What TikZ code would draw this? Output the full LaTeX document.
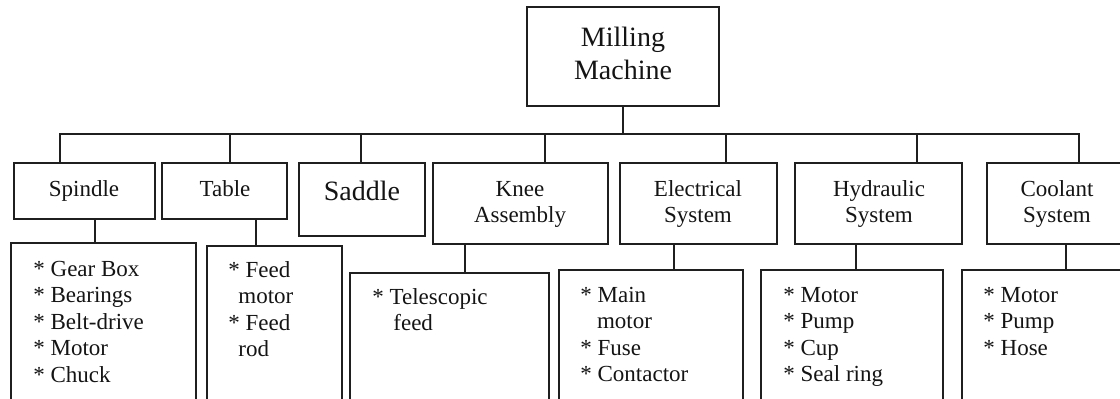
\documentclass[tikz,border=0pt]{standalone}
\usepackage{fontspec}
\setmainfont{Liberation Serif}
\usetikzlibrary{fit}
\begin{document}
\begin{tikzpicture}[x=0.5pt,y=-0.5pt,
  box/.style={draw=black!88, line width=1.1pt, inner sep=0pt, rectangle},
  conn/.style={draw=black!88, line width=1.1pt},
  lbl/.style={inner sep=0pt, anchor=north, align=center, text=black!92, font=\fontsize{11.5}{13}\selectfont},
  big/.style={inner sep=0pt, anchor=north, align=center, text=black!92, font=\fontsize{14}{16.5}\selectfont},
  lst/.style={inner sep=0pt, anchor=north west, align=left, text=black!92, font=\fontsize{11.5}{13.25}\selectfont}]
\useasboundingbox (0,0) rectangle (1120,398);
\clip (0,0) rectangle (1120,398);

% boxes
\node[box, fit={(527,7) (719,106)}] (root) {};
\node[box, fit={(14,163) (155,219)}] (spB) {};
\node[box, fit={(162,163) (287,219)}] (taB) {};
\node[box, fit={(299,163) (425,236)}] (saB) {};
\node[box, fit={(433,163) (608,244)}] (knB) {};
\node[box, fit={(620,163) (777,244)}] (elB) {};
\node[box, fit={(795,163) (962,244)}] (hyB) {};
\node[box, fit={(987,163) (1128,244)}] (coB) {};

\node[box, fit={(11,243) (196,430)}] (spL) {};
\node[box, fit={(207,246) (342,430)}] (taL) {};
\node[box, fit={(350,273) (549,430)}] (knL) {};
\node[box, fit={(559,270) (743,430)}] (elL) {};
\node[box, fit={(761,270) (943,430)}] (hyL) {};
\node[box, fit={(962,270) (1140,430)}] (coL) {};

% labels
\node[big] (rootT) at (623,22) {\rule{0pt}{12pt}Milling\\Machine};
\node[lbl] (spT) at (84,176) {\rule{0pt}{10pt}Spindle};
\node[lbl] (taT) at (225,176) {\rule{0pt}{10pt}Table};
\node[big] (saT) at (362,176) {\rule{0pt}{12pt}Saddle};
\node[lbl] (knT) at (520,176) {\rule{0pt}{10pt}Knee\\Assembly};
\node[lbl] (elT) at (698,176) {\rule{0pt}{10pt}Electrical\\System};
\node[lbl] (hyT) at (879,176) {\rule{0pt}{10pt}Hydraulic\\System};
\node[lbl] (coT) at (1057,176) {\rule{0pt}{10pt}Coolant\\System};

% lists
\node[lst] (spX) at (33,256) {\rule{0pt}{10pt}{*} Gear Box\\{*} Bearings\\{*} Belt-drive\\{*} Motor\\{*} Chuck};
\node[lst] (taX) at (228,257) {\rule{0pt}{10pt}{*} Feed\\\hspace*{5pt}motor\\{*} Feed\\\hspace*{5pt}rod};
\node[lst] (knX) at (372,284) {\rule{0pt}{10pt}{*} Telescopic\\\hspace*{10.5pt}feed};
\node[lst] (elX) at (580,282) {\rule{0pt}{10pt}{*} Main\\\hspace*{8.3pt}motor\\{*} Fuse\\{*} Contactor};
\node[lst] (hyX) at (783,282) {\rule{0pt}{10pt}{*} Motor\\{*} Pump\\{*} Cup\\{*} Seal ring};
\node[lst] (coX) at (983,282) {\rule{0pt}{10pt}{*} Motor\\{*} Pump\\{*} Hose};

% connectors
\coordinate (bL) at (60,134);
\coordinate (bR) at (1079,134);
\coordinate (bTa) at (230,134);
\coordinate (bSa) at (361,134);
\coordinate (bKn) at (545,134);
\coordinate (bEl) at (726,134);
\coordinate (bHy) at (917,134);
\draw[conn] (bL |- spB.north) -- (bL) -- (bR) -- (bR |- coB.north);
\draw[conn] (root.south) -- (root.south |- bL);
\draw[conn] (bTa) -- (bTa |- taB.north);
\draw[conn] (bSa) -- (bSa |- saB.north);
\draw[conn] (bKn) -- (bKn |- knB.north);
\draw[conn] (bEl) -- (bEl |- elB.north);
\draw[conn] (bHy) -- (bHy |- hyB.north);

\draw[conn] (95,0 |- spB.south) -- (95,0 |- spL.north);
\draw[conn] (256,0 |- taB.south) -- (256,0 |- taL.north);
\draw[conn] (465,0 |- knB.south) -- (465,0 |- knL.north);
\draw[conn] (674,0 |- elB.south) -- (674,0 |- elL.north);
\draw[conn] (856,0 |- hyB.south) -- (856,0 |- hyL.north);
\draw[conn] (1066,0 |- coB.south) -- (1066,0 |- coL.north);
\end{tikzpicture}
\end{document}
